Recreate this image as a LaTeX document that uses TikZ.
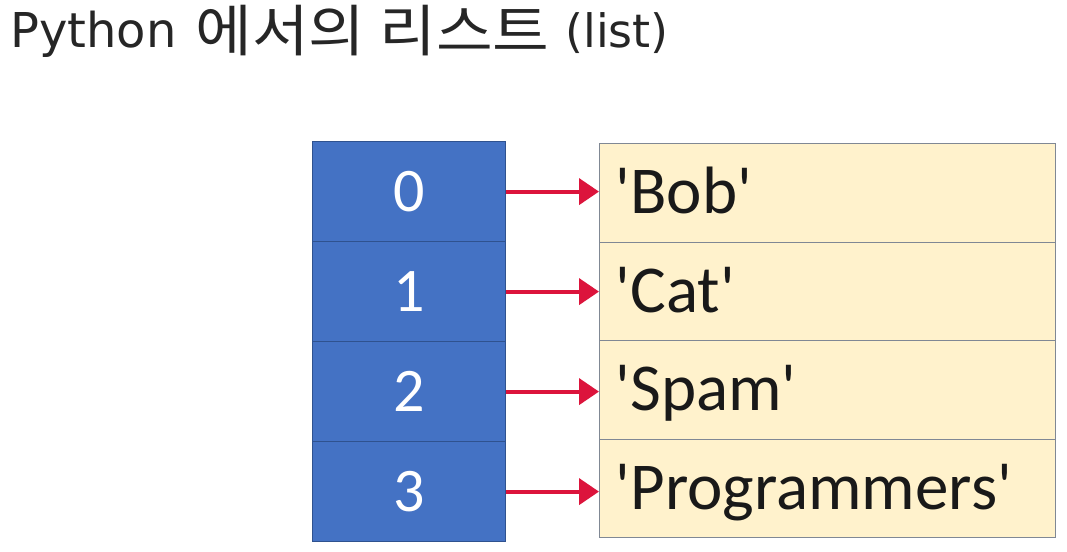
\documentclass[tikz,border=0pt]{standalone}
\usepackage{fontspec}
\setmainfont{Carlito}
\newfontfamily\krfont{Noto Sans CJK KR}[FakeStretch=1.1]
\newfontfamily\latfont{DejaVu Sans}
\usetikzlibrary{arrows.meta}
\definecolor{cellblue}{RGB}{68,114,196}
\definecolor{celledge}{RGB}{47,82,143}
\definecolor{beige}{RGB}{255,242,204}
\definecolor{beigeedge}{RGB}{128,136,148}
\definecolor{arrowred}{RGB}{220,20,60}
\tikzset{
  idxcell/.style={draw=celledge, line width=1.2pt, fill=cellblue, anchor=north west,
    minimum width=193pt, minimum height=100pt, inner sep=0pt, text=white,
    font=\fontsize{62pt}{62pt}\selectfont, text height=39pt, text depth=0pt},
  valcell/.style={draw=beigeedge, line width=1.2pt, fill=beige, anchor=north west,
    minimum width=456pt, minimum height=98.5pt, inner xsep=16pt, inner ysep=0pt,
    text width=424pt, align=left, text=black!90,
    font=\fontsize{67pt}{67pt}\selectfont, text height=44pt, text depth=2pt},
  ptr/.style={draw=arrowred, line width=4pt, -{Triangle[length=20pt,width=26pt]}},
}
\begin{document}
\begin{tikzpicture}[x=1pt,y=-1pt]
\useasboundingbox[fill=white] (0,0) rectangle (1067,551);
\node[anchor=base west, inner sep=0pt, text=black!85] (title) at (10,48)
  {{\latfont\fontsize{48pt}{48pt}\selectfont Python}\hspace{19pt}\raisebox{-4pt}{\krfont\fontsize{56pt}{56pt}\selectfont 에서의 리스트}\hspace{16pt}{\latfont\fontsize{46pt}{46pt}\selectfont (list)}};
\foreach \i/\t in {0/Bob,1/Cat,2/Spam,3/Programmers} {
  \node[idxcell] (b\i) at (312,141+100*\i) {\i};
  \node[valcell] (v\i) at (599,143+98.5*\i) {\textquotesingle\t\textquotesingle};
  \draw[ptr] (b\i.east) -- (v\i.west |- b\i.east);
}
\end{tikzpicture}
\end{document}
